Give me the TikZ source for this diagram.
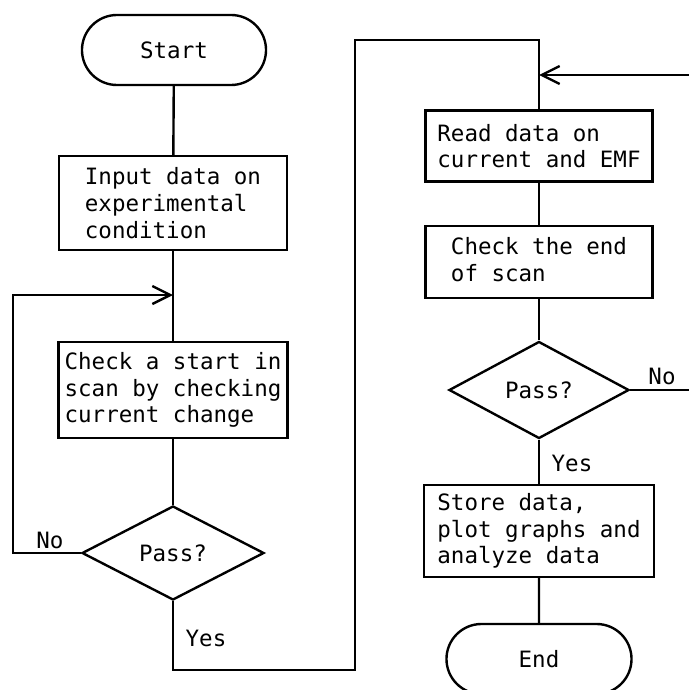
\documentclass[tikz,border=0pt]{standalone}
\usepackage{fontspec}
\usepackage{tikz}
\usetikzlibrary{arrows.meta, shapes.geometric, shapes.misc}
\newfontfamily\plotfont{DejaVu Sans Mono}

\begin{document}
\begin{tikzpicture}[x=0.025cm, y=-0.025cm, line width=1.7pt,
  every node/.style={font=\plotfont\fontsize{16}{19}\selectfont, inner sep=0pt},
  box/.style={draw, rectangle, align=left},
  term/.style={draw, rounded rectangle, minimum width=4.6cm, minimum height=1.75cm},
  test/.style={draw, diamond, minimum width=4.55cm, minimum height=2.35cm},
  flow/.style={-{Straight Barb[length=4.5mm, width=4.5mm]}}]
\clip (0,0) rectangle (689,690);
% left column
\node[term] (start) at (174,50) {Start};
\node[box, minimum width=5.7cm, minimum height=2.35cm] (input) at (173,203) {Input data on\\experimental\\condition};
\node[box, minimum width=5.725cm, minimum height=2.4cm] (check) at (173,390) {Check a start in\\scan by checking\\current change};
\node[test] (pass1) at (173,553) {Pass?};
\node (no1) at (50,540) {No};
\node (yes1) at (206,638) {Yes};
% right column
\node[box, minimum width=5.675cm, minimum height=1.775cm] (read) at (539,146) {Read data on\\current and EMF};
\node[box, minimum width=5.675cm, minimum height=1.8cm] (checkend) at (539,262) {Check the end\\of scan\phantom{g}};
\node[test, minimum width=4.5cm, minimum height=2.425cm] (pass2) at (539,390) {Pass?};
\node (no2) at (662,376) {No};
\node (yes2) at (572,463) {Yes};
\node[box, minimum width=5.75cm, minimum height=2.3cm] (store) at (539,531) {Store data,\\plot graphs and\\analyze data};
\node[term, minimum width=4.625cm] (end) at (539,659) {End};
\coordinate (j1) at (173,295);
\coordinate (lft) at (13,553);
\coordinate (c1) at (355,670);
\coordinate (c2) at (539,40);
\coordinate (j2) at (539,75);
\coordinate (inr) at (689,75);
\coordinate (outr) at (689,390);
\draw (start) -- (input);
\draw (input) -- (check);
\draw (check) -- (pass1);
\draw[flow] (pass1.west) -- (lft) |- (j1);
\draw (pass1.south) |- (c1) |- (c2) -- (read.north);
\draw[flow] (inr) -- (j2);
\draw (read) -- (checkend);
\draw (checkend) -- (pass2);
\draw (pass2.east) -- (outr);
\draw (pass2) -- (store);
\draw (store) -- (end);
\end{tikzpicture}
\end{document}
